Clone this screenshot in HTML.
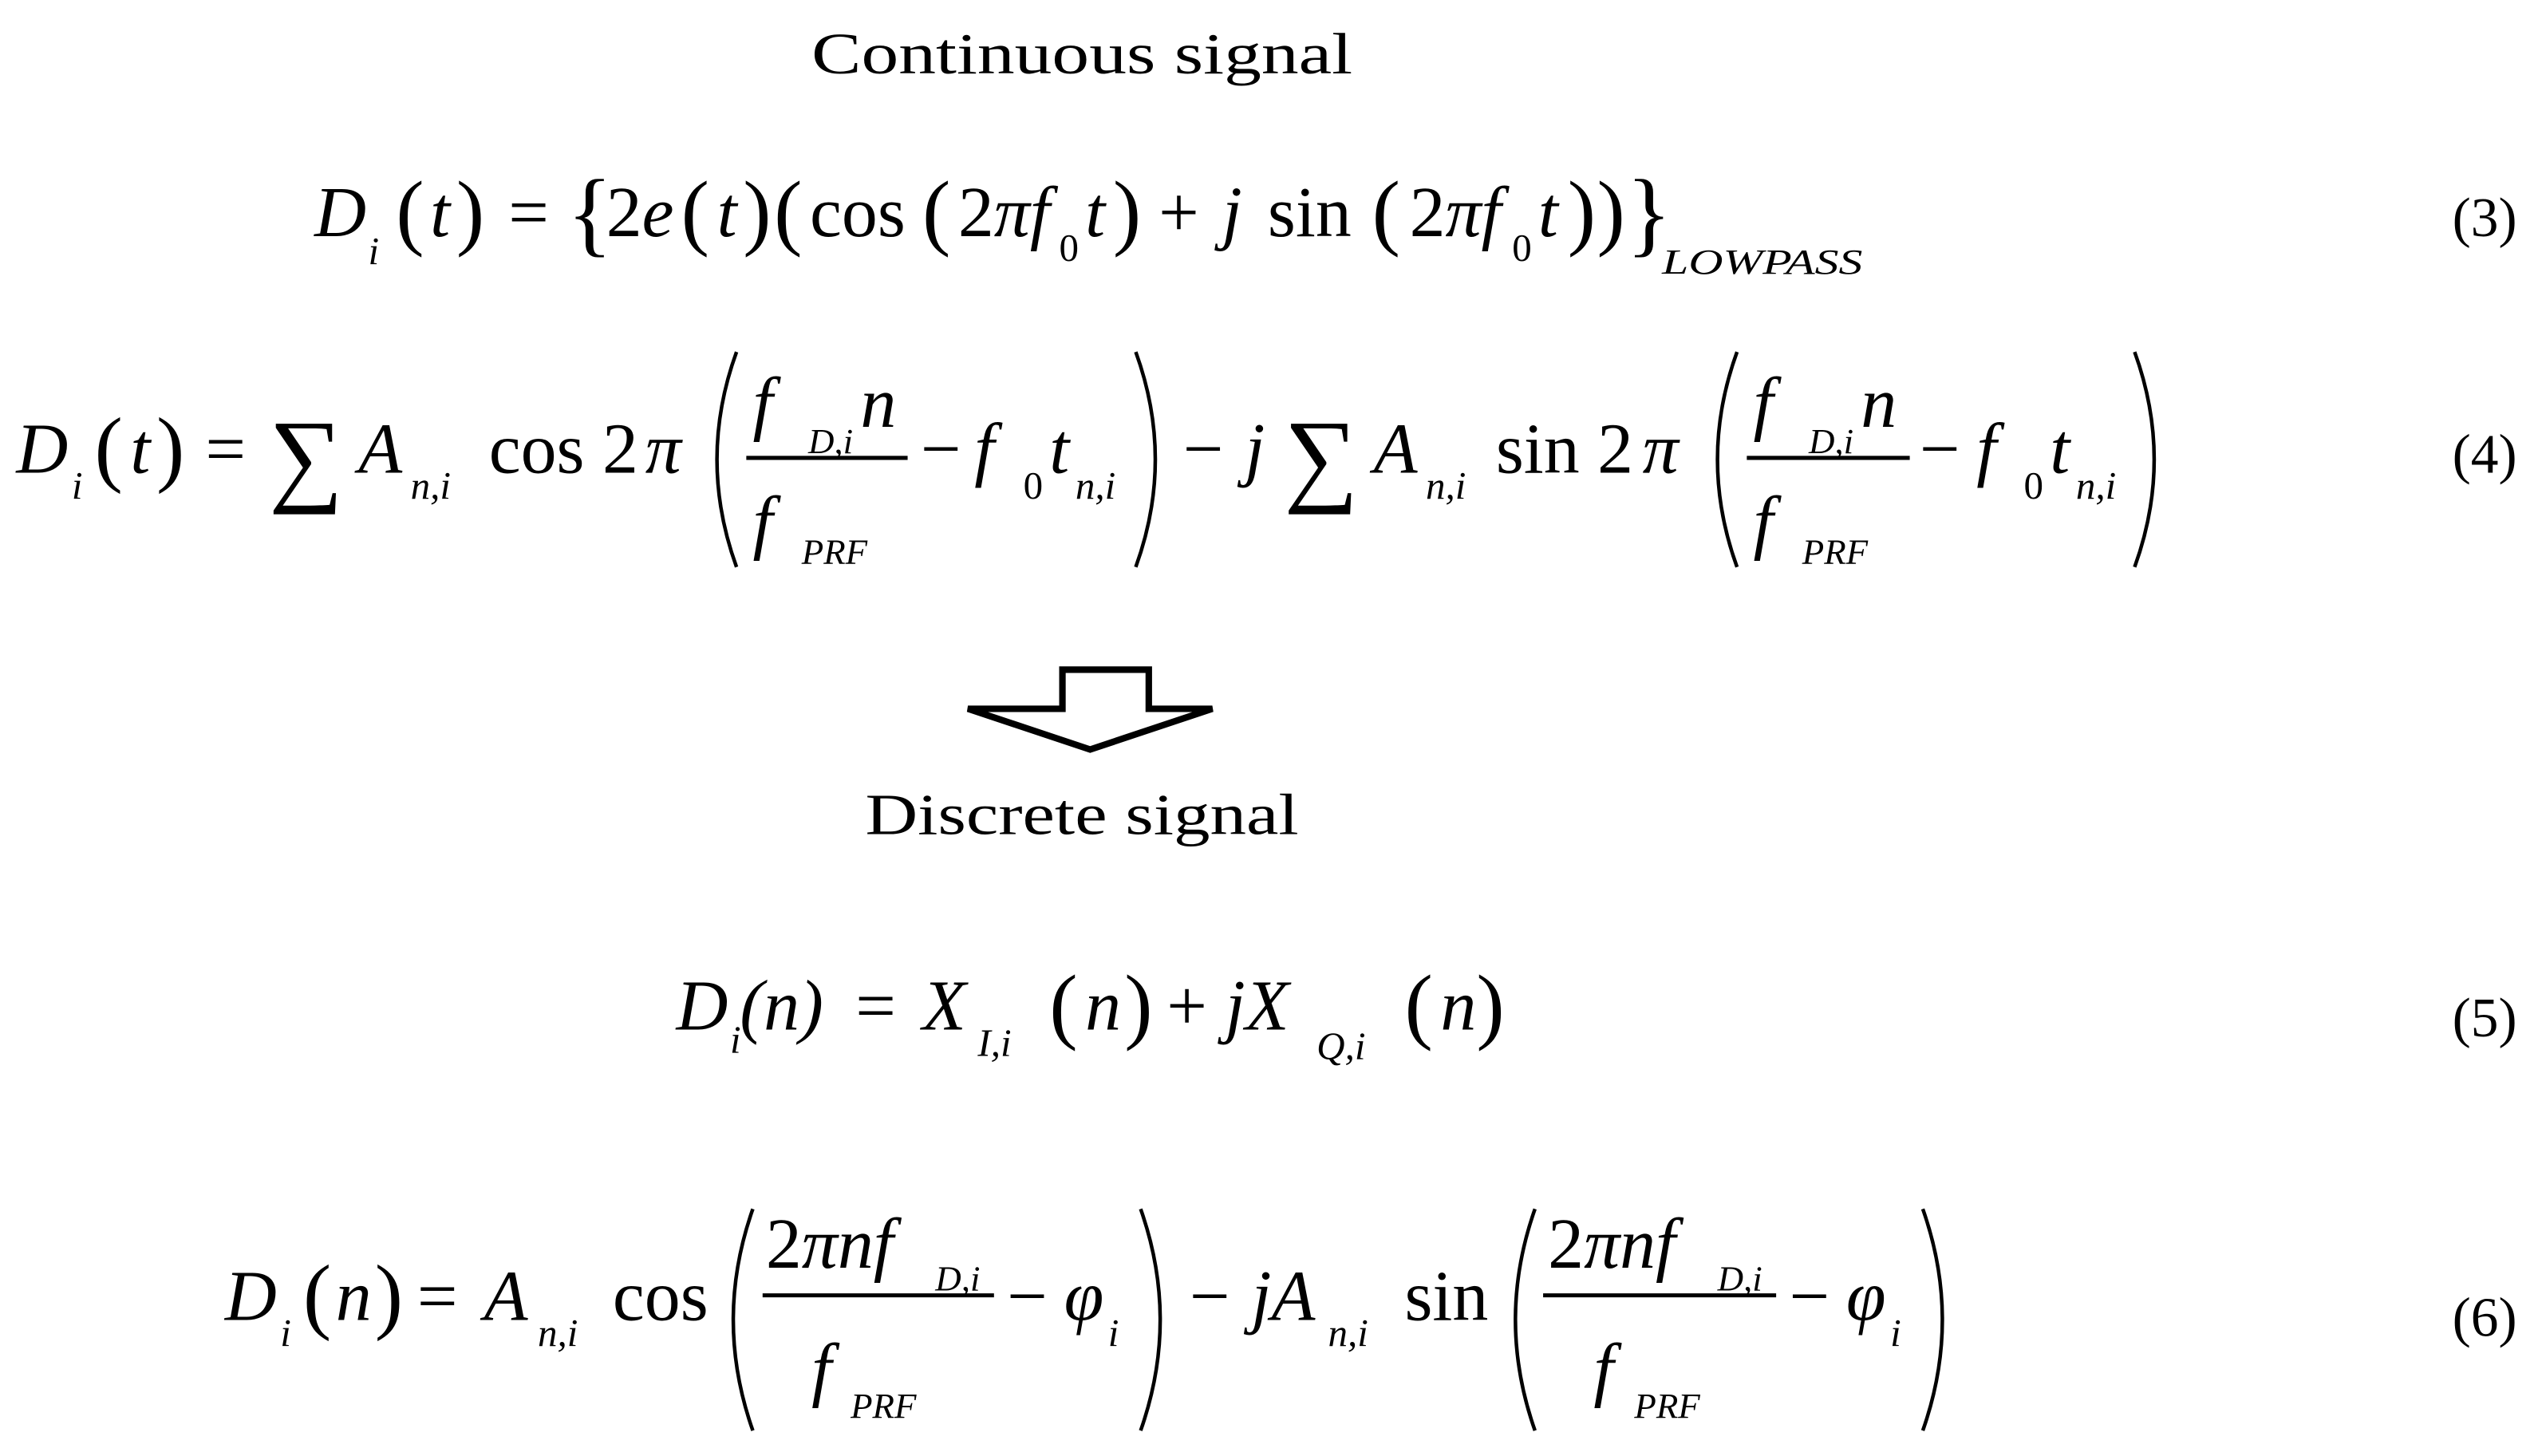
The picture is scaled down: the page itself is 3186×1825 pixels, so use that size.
<!DOCTYPE html>
<html><head><meta charset="utf-8"><style>
html,body{margin:0;padding:0;background:#fff;}
svg{display:block;}
text{font-family:"Liberation Serif",serif;fill:#000;}
.i{font-style:italic;}
</style></head><body>
<svg width="3186" height="1825" viewBox="0 0 1560 893.6" xmlns="http://www.w3.org/2000/svg">
<rect width="1560" height="894" fill="#fff"/>
<text x="498" y="45" font-size="36" textLength="332" lengthAdjust="spacingAndGlyphs">Continuous signal</text>
<text x="531" y="512" font-size="36" textLength="266" lengthAdjust="spacingAndGlyphs">Discrete signal</text>

<g font-size="34">
<text x="1505" y="145">(3)</text>
<text x="1505" y="290">(4)</text>
<text x="1505" y="636">(5)</text>
<text x="1505" y="820">(6)</text>
</g>

<!-- Eq3 -->
<g font-size="44">
<text x="193" y="145" class="i">D</text>
<text x="226" y="162" font-size="24" class="i">i</text>
<text x="243" y="147" font-size="52">(</text>
<text x="264" y="145" class="i">t</text>
<text x="280" y="147" font-size="52">)</text>
<text x="312" y="145">=</text>
<text x="348" y="150" font-size="58">{</text>
<text x="372" y="145">2</text><text x="394" y="145" class="i">e</text>
<text x="418" y="147" font-size="52">(</text>
<text x="440" y="145" class="i">t</text>
<text x="456" y="147" font-size="52">)</text>
<text x="475" y="147" font-size="52">(</text>
<text x="497" y="145">cos</text>
<text x="566" y="147" font-size="52">(</text>
<text x="588" y="145">2</text><text x="610" y="145" class="i">πf</text>
<text x="650" y="160" font-size="24">0</text>
<text x="666" y="145" class="i">t</text>
<text x="683" y="147" font-size="52">)</text>
<text x="711" y="145">+</text>
<text x="750" y="145" class="i">j</text>
<text x="778" y="145">sin</text>
<text x="842" y="147" font-size="52">(</text>
<text x="865" y="145">2</text><text x="887" y="145" class="i">πf</text>
<text x="928" y="160" font-size="24">0</text>
<text x="944" y="145" class="i">t</text>
<text x="962" y="147" font-size="52">)</text>
<text x="980" y="147" font-size="52">)</text>
<text x="998" y="150" font-size="58">}</text>
<text x="1020" y="168" font-size="22" class="i" textLength="123" lengthAdjust="spacingAndGlyphs">LOWPASS</text>
</g>

<!-- Eq4 -->
<g font-size="44">
<text x="10" y="290" class="i">D</text>
<text x="44" y="306" font-size="24" class="i">i</text>
<text x="58" y="292" font-size="52">(</text>
<text x="80" y="290" class="i">t</text>
<text x="96" y="292" font-size="52">)</text>
<text x="126" y="290">=</text>
<text x="165" y="302" font-size="64">∑</text>
<text x="220" y="290" class="i">A</text>
<text x="252" y="306" font-size="24" class="i">n,i</text>
<text x="300" y="290">cos 2</text><text x="396" y="290" class="i">π</text>
<path d="M452,216 Q428,282 452,348" fill="none" stroke="#000" stroke-width="2.2"/>
<text x="462" y="262" class="i">f</text>
<text x="496" y="278" font-size="22" class="i">D,i</text>
<text x="528" y="262" class="i">n</text>
<line x1="458" y1="281" x2="557" y2="281" stroke="#000" stroke-width="2.5"/>
<text x="462" y="335" class="i">f</text>
<text x="492" y="346" font-size="22" class="i">PRF</text>
<text x="565" y="290">−</text>
<text x="598" y="290" class="i">f</text>
<text x="628" y="306" font-size="24">0</text>
<text x="644" y="290" class="i">t</text>
<text x="660" y="306" font-size="24" class="i">n,i</text>
<path d="M697,216 Q721,282 697,348" fill="none" stroke="#000" stroke-width="2.2"/>
<text x="726" y="290">−</text>
<text x="764" y="290" class="i">j</text>
<text x="788" y="302" font-size="64">∑</text>
<text x="843" y="290" class="i">A</text>
<text x="875" y="306" font-size="24" class="i">n,i</text>
<text x="918" y="290">sin 2</text><text x="1008" y="290" class="i">π</text>
<path d="M1066,216 Q1042,282 1066,348" fill="none" stroke="#000" stroke-width="2.2"/>
<text x="1076" y="262" class="i">f</text>
<text x="1110" y="278" font-size="22" class="i">D,i</text>
<text x="1142" y="262" class="i">n</text>
<line x1="1072" y1="281" x2="1172" y2="281" stroke="#000" stroke-width="2.5"/>
<text x="1076" y="335" class="i">f</text>
<text x="1106" y="346" font-size="22" class="i">PRF</text>
<text x="1178" y="290">−</text>
<text x="1213" y="290" class="i">f</text>
<text x="1242" y="306" font-size="24">0</text>
<text x="1258" y="290" class="i">t</text>
<text x="1274" y="306" font-size="24" class="i">n,i</text>
<path d="M1310,216 Q1334,282 1310,348" fill="none" stroke="#000" stroke-width="2.2"/>
</g>

<!-- Arrow -->
<path d="M652,411 L705,411 L705,435 L744,435 L669,460 L594,435 L652,435 Z" fill="#fff" stroke="#000" stroke-width="4" stroke-linejoin="miter"/>

<!-- Eq5 -->
<g font-size="44">
<text x="415" y="632" class="i">D</text>
<text x="448" y="646" font-size="24" class="i">i</text>
<text x="454" y="632" class="i">(n)</text>
<text x="525" y="632">=</text>
<text x="566" y="632" class="i">X</text>
<text x="600" y="648" font-size="24" class="i">I,i</text>
<text x="644" y="634" font-size="52">(</text>
<text x="666" y="632" class="i">n</text>
<text x="690" y="634" font-size="52">)</text>
<text x="716" y="632">+</text>
<text x="752" y="632" class="i">jX</text>
<text x="808" y="650" font-size="24" class="i">Q,i</text>
<text x="862" y="634" font-size="52">(</text>
<text x="884" y="632" class="i">n</text>
<text x="906" y="634" font-size="52">)</text>
</g>

<!-- Eq6 -->
<g font-size="44">
<text x="138" y="810" class="i">D</text>
<text x="172" y="826" font-size="24" class="i">i</text>
<text x="186" y="812" font-size="52">(</text>
<text x="206" y="810" class="i">n</text>
<text x="230" y="812" font-size="52">)</text>
<text x="256" y="810">=</text>
<text x="297" y="810" class="i">A</text>
<text x="330" y="826" font-size="24" class="i">n,i</text>
<text x="376" y="810">cos</text>
<path d="M462,742 Q438,810 462,878" fill="none" stroke="#000" stroke-width="2.2"/>
<text x="470" y="778">2</text><text x="492" y="778" class="i">πnf</text>
<text x="574" y="792" font-size="22" class="i">D,i</text>
<line x1="468" y1="795" x2="610" y2="795" stroke="#000" stroke-width="2.5"/>
<text x="498" y="855" class="i">f</text>
<text x="522" y="870" font-size="22" class="i">PRF</text>
<text x="618" y="810">−</text>
<text x="653" y="810" class="i">φ</text>
<text x="680" y="826" font-size="24" class="i">i</text>
<path d="M700,742 Q724,810 700,878" fill="none" stroke="#000" stroke-width="2.2"/>
<text x="730" y="810">−</text>
<text x="768" y="810" class="i">jA</text>
<text x="815" y="826" font-size="24" class="i">n,i</text>
<text x="862" y="810">sin</text>
<path d="M942,742 Q918,810 942,878" fill="none" stroke="#000" stroke-width="2.2"/>
<text x="950" y="778">2</text><text x="972" y="778" class="i">πnf</text>
<text x="1054" y="792" font-size="22" class="i">D,i</text>
<line x1="947" y1="795" x2="1090" y2="795" stroke="#000" stroke-width="2.5"/>
<text x="978" y="855" class="i">f</text>
<text x="1003" y="870" font-size="22" class="i">PRF</text>
<text x="1098" y="810">−</text>
<text x="1133" y="810" class="i">φ</text>
<text x="1160" y="826" font-size="24" class="i">i</text>
<path d="M1180,742 Q1204,810 1180,878" fill="none" stroke="#000" stroke-width="2.2"/>
</g>
</svg>
</body></html>
